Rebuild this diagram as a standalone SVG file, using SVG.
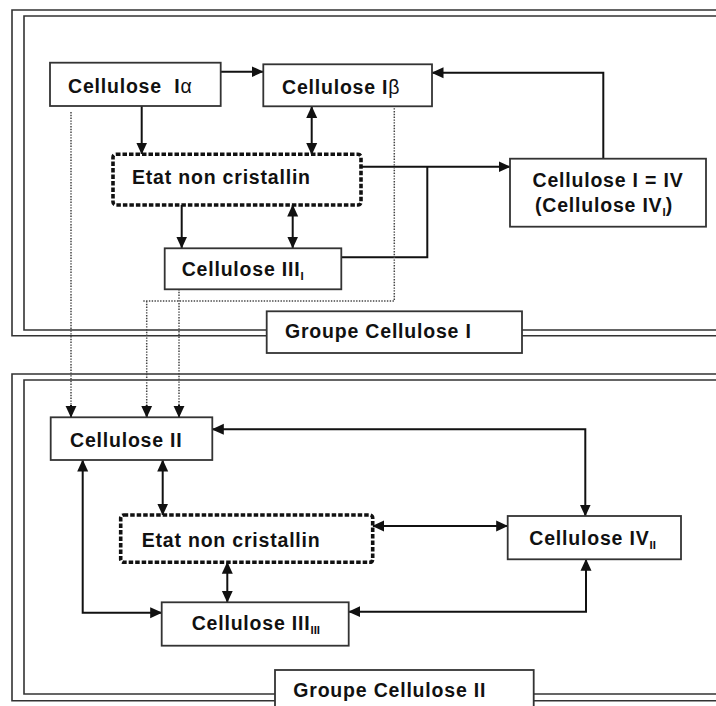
<svg xmlns="http://www.w3.org/2000/svg" width="716" height="706" viewBox="0 0 716 706">
<style>
.frame{fill:none;stroke:#333;stroke-width:1.6}
.box{fill:#fff;stroke:#333;stroke-width:1.8}
.dbox{fill:#fff;stroke:#111;stroke-width:3.6;stroke-dasharray:4.5 2}
.t{font-family:"Liberation Sans",Arial,sans-serif;font-weight:bold;font-size:19.5px;letter-spacing:0.8px;fill:#111}
.sub{font-size:11.5px;letter-spacing:0}
.greek{font-weight:normal}
.c{fill:none;stroke:#111;stroke-width:2}
.d{fill:none;stroke:#444;stroke-width:1.5;stroke-dasharray:1.4 1.4}
</style>
<defs>
<marker id="ah" markerUnits="userSpaceOnUse" markerWidth="12" markerHeight="12" viewBox="0 0 12 12" refX="11.5" refY="6" orient="auto-start-reverse">
<path d="M0,0.5 L12,6 L0,11.5 Z" fill="#111"/>
</marker>
</defs>
<rect width="716" height="706" fill="#fff"/>
<g id="frames">
<path class="frame" d="M730,10 H12 V335.7 H730"/>
<path class="frame" d="M730,16 H24 V330 H730"/>
<path class="frame" d="M730,374 H12 V700.7 H730"/>
<path class="frame" d="M730,380 H24 V694 H730"/>
</g>
<g id="connectors">
<path class="c" d="M220.7,71.7 H263" marker-end="url(#ah)"/>
<path class="c" d="M141.7,106 V154" marker-end="url(#ah)"/>
<path class="c" d="M311.7,106.5 V154.5" marker-start="url(#ah)" marker-end="url(#ah)"/>
<path class="c" d="M362,166.7 H510" marker-end="url(#ah)"/>
<path class="c" d="M341.3,257.3 H427.3 V166.7"/>
<path class="c" d="M603.3,158.7 V72.7 H432" marker-end="url(#ah)"/>
<path class="c" d="M181.7,205 V248" marker-end="url(#ah)"/>
<path class="c" d="M292.7,205 V248" marker-start="url(#ah)" marker-end="url(#ah)"/>
<path class="d" d="M71,112 V405"/>
<path class="d" d="M394.3,97 V301 H142.7 M146.7,301 V405"/>
<path class="d" d="M179,289 V405"/>
<path class="c" d="M71,405 V417.3" marker-end="url(#ah)"/>
<path class="c" d="M146.7,405 V417.3" marker-end="url(#ah)"/>
<path class="c" d="M179,405 V417.3" marker-end="url(#ah)"/>
<path class="c" d="M212.3,429.3 H585.3 V516" marker-start="url(#ah)" marker-end="url(#ah)"/>
<path class="c" d="M162.7,460 V515" marker-start="url(#ah)" marker-end="url(#ah)"/>
<path class="c" d="M82.7,460 V612.7 H161.7" marker-start="url(#ah)" marker-end="url(#ah)"/>
<path class="c" d="M372.7,526 H507.7" marker-start="url(#ah)" marker-end="url(#ah)"/>
<path class="c" d="M227.3,562.3 V602.3" marker-start="url(#ah)" marker-end="url(#ah)"/>
<path class="c" d="M348.7,611.7 H586 V559.3" marker-start="url(#ah)" marker-end="url(#ah)"/>
</g>
<g id="cellulose-ia">
<rect class="box" x="50" y="62.7" width="170.7" height="43.3"/>
<text class="t" x="68" y="93.3" xml:space="preserve">Cellulose  I<tspan class="greek">α</tspan></text>
</g>
<g id="cellulose-ib">
<rect class="box" x="263.3" y="64.3" width="168.7" height="42"/>
<text class="t" x="282" y="93.5">Cellulose I<tspan class="greek">β</tspan></text>
</g>
<g id="etat-1">
<rect class="dbox" x="113" y="154.3" width="248" height="50.7" rx="3"/>
<text class="t" x="132" y="184">Etat non cristallin</text>
</g>
<g id="cellulose-i-iv">
<rect class="box" x="510" y="158.7" width="196" height="68"/>
<text class="t" x="608" y="187.3" text-anchor="middle">Cellulose I = IV</text>
<text class="t" x="535" y="211.7">(Cellulose IV<tspan class="sub" dy="4">I</tspan><tspan dy="-4">)</tspan></text>
</g>
<g id="cellulose-iii-i">
<rect class="box" x="164.7" y="248.3" width="176.6" height="41"/>
<text class="t" x="181.7" y="276">Cellulose III<tspan class="sub" dy="4">I</tspan></text>
</g>
<g id="groupe-1">
<rect class="box" x="266.7" y="311.3" width="255.3" height="41.7"/>
<text class="t" x="285" y="338.3">Groupe Cellulose I</text>
</g>
<g id="cellulose-ii">
<rect class="box" x="50.7" y="417.3" width="161.6" height="42.7"/>
<text class="t" x="70" y="446.7">Cellulose II</text>
</g>
<g id="etat-2">
<rect class="dbox" x="120.7" y="515" width="252" height="47.3" rx="3"/>
<text class="t" x="141.7" y="546.7">Etat non cristallin</text>
</g>
<g id="cellulose-iv-ii">
<rect class="box" x="507.7" y="516" width="173.3" height="43.3"/>
<text class="t" x="529.3" y="545">Cellulose IV<tspan class="sub" dy="4">II</tspan></text>
</g>
<g id="cellulose-iii-iii">
<rect class="box" x="161.7" y="602.3" width="187" height="43.4"/>
<text class="t" x="191.7" y="630">Cellulose III<tspan class="sub" dy="4">III</tspan></text>
</g>
<g id="groupe-2">
<rect class="box" x="275" y="670" width="258.7" height="45"/>
<text class="t" x="293.3" y="696.7">Groupe Cellulose II</text>
</g>
</svg>
